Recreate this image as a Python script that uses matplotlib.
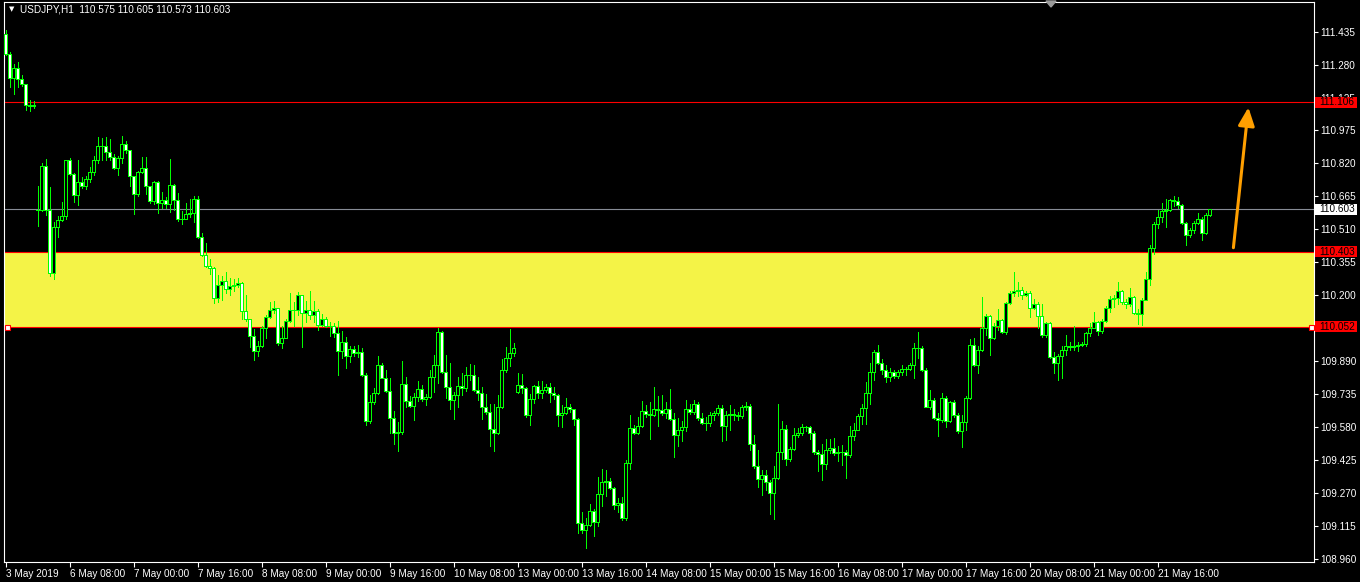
import numpy as np
import matplotlib.pyplot as plt
import matplotlib.transforms as mtransforms
from matplotlib.patches import Rectangle, Polygon

plt.rcParams['font.family'] = ['Liberation Sans', 'DejaVu Sans']

# ---- data (USDJPY, H1) ----
symbol = 'USDJPY,H1'
first_open = 111.426
gap_opens = {8: 110.601, 128: 109.745}   # weekend gaps, other bars open at prev close

closes = [
    111.331, 111.218, 111.267, 111.214, 111.190, 111.093, 111.088, 111.093, 110.601, 110.806,  # 0
    110.601, 110.303, 110.520, 110.553, 110.572, 110.832, 110.766, 110.671, 110.731, 110.714,  # 10
    110.745, 110.778, 110.832, 110.902, 110.898, 110.871, 110.850, 110.798, 110.845, 110.909,  # 20
    110.879, 110.757, 110.676, 110.778, 110.796, 110.711, 110.641, 110.731, 110.634, 110.645,  # 30
    110.627, 110.718, 110.645, 110.555, 110.558, 110.579, 110.584, 110.650, 110.471, 110.388,  # 40
    110.336, 110.329, 110.185, 110.249, 110.266, 110.228, 110.242, 110.249, 110.256, 110.124,  # 50
    110.086, 110.008, 109.936, 109.959, 110.046, 110.098, 110.129, 110.138, 109.976, 109.999,  # 60
    110.079, 110.131, 110.128, 110.198, 110.115, 110.128, 110.107, 110.124, 110.058, 110.089,  # 70
    110.054, 110.056, 110.023, 109.936, 109.981, 109.915, 109.947, 109.929, 109.933, 109.825,  # 80
    109.606, 109.698, 109.742, 109.872, 109.811, 109.751, 109.624, 109.554, 109.556, 109.780,  # 90
    109.704, 109.679, 109.721, 109.759, 109.711, 109.721, 109.815, 109.872, 110.028, 109.837,  # 100
    109.768, 109.707, 109.728, 109.773, 109.763, 109.825, 109.825, 109.756, 109.738, 109.676,  # 110
    109.651, 109.572, 109.554, 109.672, 109.846, 109.902, 109.929, 109.950, 109.776, 109.763,  # 120
    109.638, 109.711, 109.773, 109.738, 109.756, 109.770, 109.738, 109.731, 109.638, 109.648,  # 130
    109.672, 109.665, 109.617, 109.131, 109.096, 109.120, 109.186, 109.134, 109.264, 109.322,  # 140
    109.325, 109.294, 109.212, 109.221, 109.151, 109.412, 109.577, 109.551, 109.586, 109.655,  # 150
    109.641, 109.638, 109.665, 109.662, 109.645, 109.665, 109.617, 109.542, 109.565, 109.579,  # 160
    109.665, 109.651, 109.690, 109.620, 109.599, 109.598, 109.638, 109.645, 109.669, 109.586,  # 170
    109.638, 109.643, 109.638, 109.634, 109.672, 109.679, 109.499, 109.395, 109.334, 109.353,  # 180
    109.322, 109.270, 109.339, 109.464, 109.572, 109.429, 109.478, 109.544, 109.551, 109.582,  # 190
    109.579, 109.551, 109.464, 109.453, 109.405, 109.471, 109.481, 109.457, 109.462, 109.462,  # 200
    109.450, 109.540, 109.568, 109.634, 109.669, 109.738, 109.837, 109.933, 109.881, 109.846,  # 210
    109.815, 109.839, 109.818, 109.836, 109.853, 109.853, 109.870, 109.950, 109.950, 109.846,  # 220
    109.676, 109.707, 109.624, 109.613, 109.718, 109.606, 109.696, 109.638, 109.560, 109.603,  # 230
    109.714, 109.967, 109.872, 109.941, 110.046, 110.103, 109.999, 110.054, 110.082, 110.028,  # 240
    110.162, 110.211, 110.218, 110.225, 110.200, 110.207, 110.138, 110.159, 110.103, 110.011,  # 250
    110.068, 109.907, 109.881, 109.912, 109.943, 109.961, 109.957, 109.961, 109.967, 109.969,  # 260
    110.023, 110.047, 110.072, 110.032, 110.079, 110.141, 110.181, 110.188, 110.218, 110.167,  # 270
    110.159, 110.190, 110.115, 110.110, 110.176, 110.277, 110.419, 110.534, 110.568, 110.593,  # 280
    110.598, 110.645, 110.643, 110.622, 110.537, 110.482, 110.503, 110.537, 110.555, 110.492,  # 290
    110.575, 110.603,                                                                          # 300
]

highs = [
    111.444, 111.339, 111.287, 111.296, 111.235, 111.192, 111.114, 111.110, 110.714, 110.818,
    110.839, 110.705, 110.541, 110.570, 110.636, 110.836, 110.845, 110.775, 110.832, 110.752,
    110.757, 110.801, 110.853, 110.940, 110.937, 110.944, 110.931, 110.862, 110.853, 110.949,
    110.923, 110.879, 110.757, 110.783, 110.850, 110.850, 110.714, 110.735, 110.735, 110.685,
    110.662, 110.839, 110.723, 110.680, 110.596, 110.631, 110.653, 110.666, 110.666, 110.489,
    110.445, 110.367, 110.332, 110.294, 110.289, 110.306, 110.280, 110.277, 110.280, 110.263,
    110.202, 110.089, 110.042, 109.985, 110.054, 110.107, 110.167, 110.172, 110.141, 110.054,
    110.086, 110.211, 110.167, 110.214, 110.202, 110.172, 110.219, 110.172, 110.133, 110.110,
    110.098, 110.072, 110.068, 110.080, 110.033, 110.002, 109.959, 109.959, 109.964, 109.950,
    109.832, 109.728, 109.763, 109.912, 109.881, 109.849, 109.808, 109.655, 109.603, 109.889,
    109.815, 109.724, 109.738, 109.797, 109.776, 109.733, 109.846, 109.919, 110.046, 110.032,
    109.919, 109.881, 109.745, 109.815, 109.832, 109.860, 109.877, 109.872, 109.815, 109.768,
    109.733, 109.690, 109.690, 109.728, 109.898, 109.954, 110.040, 109.976, 109.832, 109.829,
    109.768, 109.733, 109.776, 109.797, 109.794, 109.780, 109.785, 109.768, 109.733, 109.681,
    109.716, 109.686, 109.664, 109.624, 109.183, 109.151, 109.217, 109.195, 109.346, 109.381,
    109.377, 109.342, 109.299, 109.247, 109.252, 109.426, 109.638, 109.589, 109.629, 109.704,
    109.681, 109.698, 109.768, 109.724, 109.728, 109.698, 109.759, 109.646, 109.620, 109.606,
    109.707, 109.686, 109.707, 109.698, 109.646, 109.629, 109.651, 109.655, 109.681, 109.681,
    109.655, 109.681, 109.664, 109.651, 109.681, 109.698, 109.686, 109.542, 109.473, 109.377,
    109.377, 109.329, 109.398, 109.690, 109.606, 109.589, 109.485, 109.577, 109.577, 109.594,
    109.586, 109.586, 109.560, 109.473, 109.499, 109.525, 109.525, 109.530, 109.490, 109.495,
    109.473, 109.586, 109.599, 109.641, 109.686, 109.790, 109.881, 109.941, 109.964, 109.898,
    109.872, 109.855, 109.846, 109.846, 109.872, 109.863, 109.881, 109.976, 110.028, 109.959,
    109.855, 109.756, 109.716, 109.646, 109.742, 109.724, 109.703, 109.707, 109.646, 109.638,
    109.724, 109.994, 109.999, 109.959, 110.190, 110.110, 110.107, 110.068, 110.133, 110.089,
    110.167, 110.219, 110.306, 110.259, 110.237, 110.219, 110.219, 110.179, 110.167, 110.159,
    110.075, 110.072, 109.933, 109.924, 109.959, 110.011, 109.981, 110.054, 109.981, 109.981,
    110.028, 110.068, 110.120, 110.080, 110.089, 110.150, 110.197, 110.202, 110.259, 110.225,
    110.179, 110.231, 110.197, 110.133, 110.185, 110.306, 110.436, 110.544, 110.601, 110.631,
    110.653, 110.653, 110.666, 110.662, 110.627, 110.544, 110.515, 110.549, 110.584, 110.567,
    110.584, 110.605,
]

lows = [
    111.326, 111.175, 111.145, 111.175, 111.183, 111.067, 111.062, 111.079, 110.523, 110.596,
    110.575, 110.289, 110.277, 110.471, 110.546, 110.558, 110.763, 110.636, 110.624, 110.704,
    110.700, 110.731, 110.763, 110.818, 110.836, 110.836, 110.836, 110.792, 110.763, 110.818,
    110.867, 110.711, 110.581, 110.666, 110.775, 110.676, 110.631, 110.629, 110.584, 110.607,
    110.610, 110.589, 110.601, 110.549, 110.532, 110.558, 110.567, 110.541, 110.468, 110.384,
    110.332, 110.297, 110.162, 110.167, 110.176, 110.211, 110.202, 110.219, 110.237, 110.086,
    110.080, 109.955, 109.895, 109.915, 109.954, 110.000, 110.093, 110.115, 109.967, 109.950,
    109.999, 110.072, 110.054, 110.107, 109.955, 110.072, 110.089, 110.075, 110.034, 110.054,
    110.051, 110.006, 110.002, 109.825, 109.902, 109.855, 109.884, 109.915, 109.907, 109.820,
    109.589, 109.599, 109.689, 109.733, 109.808, 109.745, 109.554, 109.499, 109.467, 109.547,
    109.676, 109.672, 109.611, 109.704, 109.704, 109.681, 109.716, 109.745, 109.785, 109.832,
    109.716, 109.664, 109.617, 109.676, 109.728, 109.751, 109.803, 109.751, 109.707, 109.617,
    109.641, 109.490, 109.467, 109.547, 109.669, 109.837, 109.867, 109.915, 109.742, 109.738,
    109.629, 109.589, 109.693, 109.716, 109.716, 109.745, 109.698, 109.711, 109.586, 109.582,
    109.641, 109.651, 109.589, 109.082, 109.082, 109.012, 109.117, 109.068, 109.117, 109.207,
    109.256, 109.287, 109.195, 109.183, 109.141, 109.143, 109.381, 109.547, 109.547, 109.582,
    109.629, 109.525, 109.634, 109.586, 109.638, 109.624, 109.612, 109.438, 109.490, 109.516,
    109.560, 109.641, 109.641, 109.612, 109.594, 109.568, 109.586, 109.612, 109.638, 109.516,
    109.519, 109.568, 109.612, 109.612, 109.624, 109.658, 109.473, 109.386, 109.299, 109.259,
    109.282, 109.172, 109.148, 109.334, 109.429, 109.403, 109.421, 109.473, 109.534, 109.542,
    109.560, 109.525, 109.455, 109.374, 109.329, 109.381, 109.460, 109.447, 109.421, 109.403,
    109.342, 109.438, 109.519, 109.565, 109.594, 109.594, 109.690, 109.803, 109.877, 109.829,
    109.790, 109.794, 109.808, 109.808, 109.825, 109.825, 109.846, 109.808, 109.902, 109.842,
    109.672, 109.664, 109.617, 109.537, 109.603, 109.582, 109.603, 109.629, 109.551, 109.485,
    109.568, 109.711, 109.867, 109.832, 109.936, 110.011, 109.919, 109.994, 110.037, 110.023,
    110.016, 110.159, 110.193, 110.193, 110.179, 110.193, 110.098, 110.133, 110.046, 110.002,
    110.002, 109.902, 109.832, 109.803, 109.808, 109.919, 109.941, 109.941, 109.936, 109.959,
    109.959, 110.006, 110.046, 110.011, 110.023, 110.075, 110.120, 110.145, 110.159, 110.159,
    110.141, 110.150, 110.110, 110.063, 110.058, 110.176, 110.245, 110.393, 110.515, 110.541,
    110.520, 110.593, 110.619, 110.610, 110.532, 110.433, 110.471, 110.492, 110.532, 110.457,
    110.485, 110.573,
]

time_labels = ['3 May 2019', '6 May 08:00', '7 May 00:00', '7 May 16:00', '8 May 08:00',
               '9 May 00:00', '9 May 16:00', '10 May 08:00', '13 May 00:00', '13 May 16:00',
               '14 May 08:00', '15 May 00:00', '15 May 16:00', '16 May 08:00', '17 May 00:00',
               '17 May 16:00', '20 May 08:00', '21 May 00:00', '21 May 16:00']
price_ticks = [108.960, 109.115, 109.270, 109.425, 109.580, 109.735, 109.890, 110.045,
               110.200, 110.355, 110.510, 110.665, 110.820, 110.975, 111.125, 111.280, 111.435]

resistance = 111.106
zone_top = 110.403
zone_bottom = 110.052
arrow_from = (306.95, 110.422)
arrow_to = (310.7, 111.081)

# ---- build OHLC ----
closes = np.array(closes)
n = len(closes)
opens = np.empty(n)
opens[0] = first_open
opens[1:] = closes[:-1]
for k, v in gap_opens.items():
    opens[k] = v
highs = np.maximum(np.array(highs), np.maximum(opens, closes))
lows = np.minimum(np.array(lows), np.minimum(opens, closes))
bid = closes[-1]

W, H = 1360, 582
lime = '#00ff00'
fs = 7.2

fig = plt.figure(figsize=(W / 100, H / 100), dpi=100)
fig.patch.set_facecolor('black')
ax = fig.add_axes([4 / W, 1 - 562 / H, 1310 / W, 560 / H])
ax.set_facecolor('black')

x = np.arange(n)
ax.axhspan(zone_bottom, zone_top, color='#f4f347', lw=0, zorder=1)
for lvl in (resistance, zone_top, zone_bottom):
    ax.axhline(lvl, color='#ff0000', lw=0.8, zorder=1.5)
ax.axhline(bid, color='#878c96', lw=0.8, zorder=1.5)

ax.vlines(x, lows, highs, colors=lime, lw=0.72, zorder=3, antialiased=False)
ax.bar(x, closes - opens, bottom=opens, width=0.55,
       color=np.where(closes >= opens, 'black', 'white'),
       edgecolor=lime, linewidth=0.72, zorder=4, antialiased=False)

# rectangle anchor points
ax.plot([0.45, 326.4], [zone_bottom, zone_bottom], 's', ms=3.6, mfc='white',
        mec='red', mew=0.8, clip_on=False, zorder=6)

ax.annotate('', xy=arrow_to, xytext=arrow_from, zorder=7,
            arrowprops=dict(arrowstyle='-|>,head_length=1.0,head_width=0.45',
                            mutation_scale=11, color='#ff9f00', lw=2.2,
                            shrinkA=0, shrinkB=0))

ax.set_xlim(-0.375, 327.1)
ax.set_ylim(108.946, 111.576)

ax.yaxis.tick_right()
ax.set_yticks(price_ticks)
ax.set_yticklabels([f'{v:.3f}' for v in price_ticks])
ax.tick_params(axis='y', colors='white', length=3, width=0.8, pad=1.5, labelsize=fs)
ax.set_xticks(np.arange(0, n, 16))
ax.set_xticklabels(time_labels)
ax.tick_params(axis='x', colors='white', length=3.5, width=0.8, pad=1.2, labelsize=fs)
for lbl in ax.get_xticklabels():
    lbl.set_ha('left')
for sp in ax.spines.values():
    sp.set_color('white')
    sp.set_linewidth(0.8)

# price tags on the right scale
trans = mtransforms.blended_transform_factory(fig.transFigure, ax.transData)
bh = 11 * (111.576 - 108.946) / 560
for lvl, fc in ((resistance, '#ff0000'), (zone_top, '#ff0000'),
                (zone_bottom, '#ff0000'), (bid, 'white')):
    ax.add_patch(Rectangle((1315 / W, lvl - bh / 2), 42 / W, bh, transform=trans,
                           fc=fc, ec='none', clip_on=False, zorder=10))
    ax.text(1319 / W, lvl, f'{lvl:.3f}', transform=trans, ha='left', va='center',
            fontsize=fs, color='black', clip_on=False, zorder=11)

# header
fig.text(9 / W, 1 - 9 / H, '▼', fontsize=5, color='white', va='center',
         family='DejaVu Sans')
fig.text(20 / W, 1 - 9 / H,
         f'{symbol}  {opens[-1]:.3f} {highs[-1]:.3f} {lows[-1]:.3f} {closes[-1]:.3f}',
         fontsize=fs, color='white', va='center')
fig.add_artist(Polygon([[1046 / W, 1 - 1 / H], [1056 / W, 1 - 1 / H], [1051 / W, 1 - 7 / H]],
                       closed=True, transform=fig.transFigure, color='#9a9a9a'))

fig.savefig('out.png', dpi=100, facecolor='black')
